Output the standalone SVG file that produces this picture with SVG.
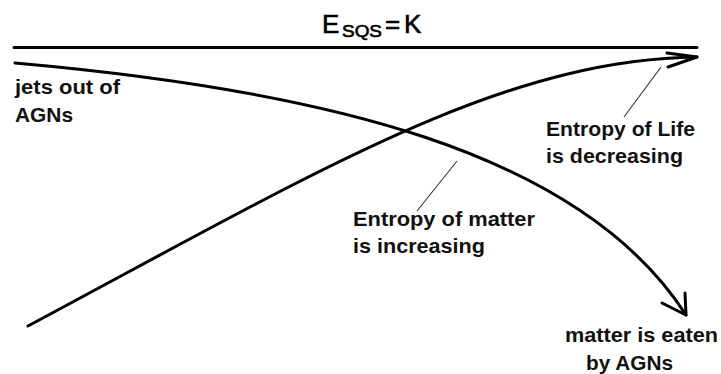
<svg xmlns="http://www.w3.org/2000/svg" width="721" height="374" viewBox="0 0 721 374">
<style>
.bg{fill:#fff}
.line{fill:none;stroke:#000;stroke-width:3;stroke-linecap:round;stroke-linejoin:round}
.lead{fill:none;stroke:#333;stroke-width:1.1}
.lbl{font-family:"Liberation Sans",Arial,sans-serif;font-size:21px;font-weight:bold;fill:#111}
.ttl{font-family:"Liberation Sans",Arial,sans-serif;fill:#000;stroke:#000;stroke-width:0.6}
</style>
<rect class="bg" x="0" y="0" width="721" height="374"/>
<g id="title">
<text class="ttl" x="322" y="33" font-size="26">E</text>
<text class="ttl" x="342" y="37" font-size="17" textLength="40" lengthAdjust="spacingAndGlyphs">SQS</text>
<text class="ttl" x="385" y="33" font-size="26">=</text>
<text class="ttl" x="404" y="33" font-size="26">K</text>
</g>
<g id="connectors">
<path class="line" d="M14,47.5 L697,47.5"/>
<path class="line" d="M15,63 C320,90 580,150 686,315"/>
<path class="line" d="M662,303 L686,315 L685,293"/>
<path class="line" d="M28,326 C320,170 500,60 697,57"/>
<path class="line" d="M667,53 L697,57 L668,67"/>
<path class="lead" d="M661,67 L624,117"/>
<path class="lead" d="M457,161 L417,211"/>
</g>
<g id="jets">
<text class="lbl" x="15" y="94" textLength="105" lengthAdjust="spacingAndGlyphs">jets out of</text>
<text class="lbl" x="15" y="122" textLength="58" lengthAdjust="spacingAndGlyphs">AGNs</text>
</g>
<g id="life">
<text class="lbl" x="546" y="136" textLength="149" lengthAdjust="spacingAndGlyphs">Entropy of Life</text>
<text class="lbl" x="546" y="163" textLength="137" lengthAdjust="spacingAndGlyphs">is decreasing</text>
</g>
<g id="matter">
<text class="lbl" x="353" y="226" textLength="182" lengthAdjust="spacingAndGlyphs">Entropy of matter</text>
<text class="lbl" x="353" y="253" textLength="132" lengthAdjust="spacingAndGlyphs">is increasing</text>
</g>
<g id="eaten">
<text class="lbl" x="565" y="342" textLength="153" lengthAdjust="spacingAndGlyphs">matter is eaten</text>
<text class="lbl" x="586" y="370" textLength="87" lengthAdjust="spacingAndGlyphs">by AGNs</text>
</g>
</svg>
